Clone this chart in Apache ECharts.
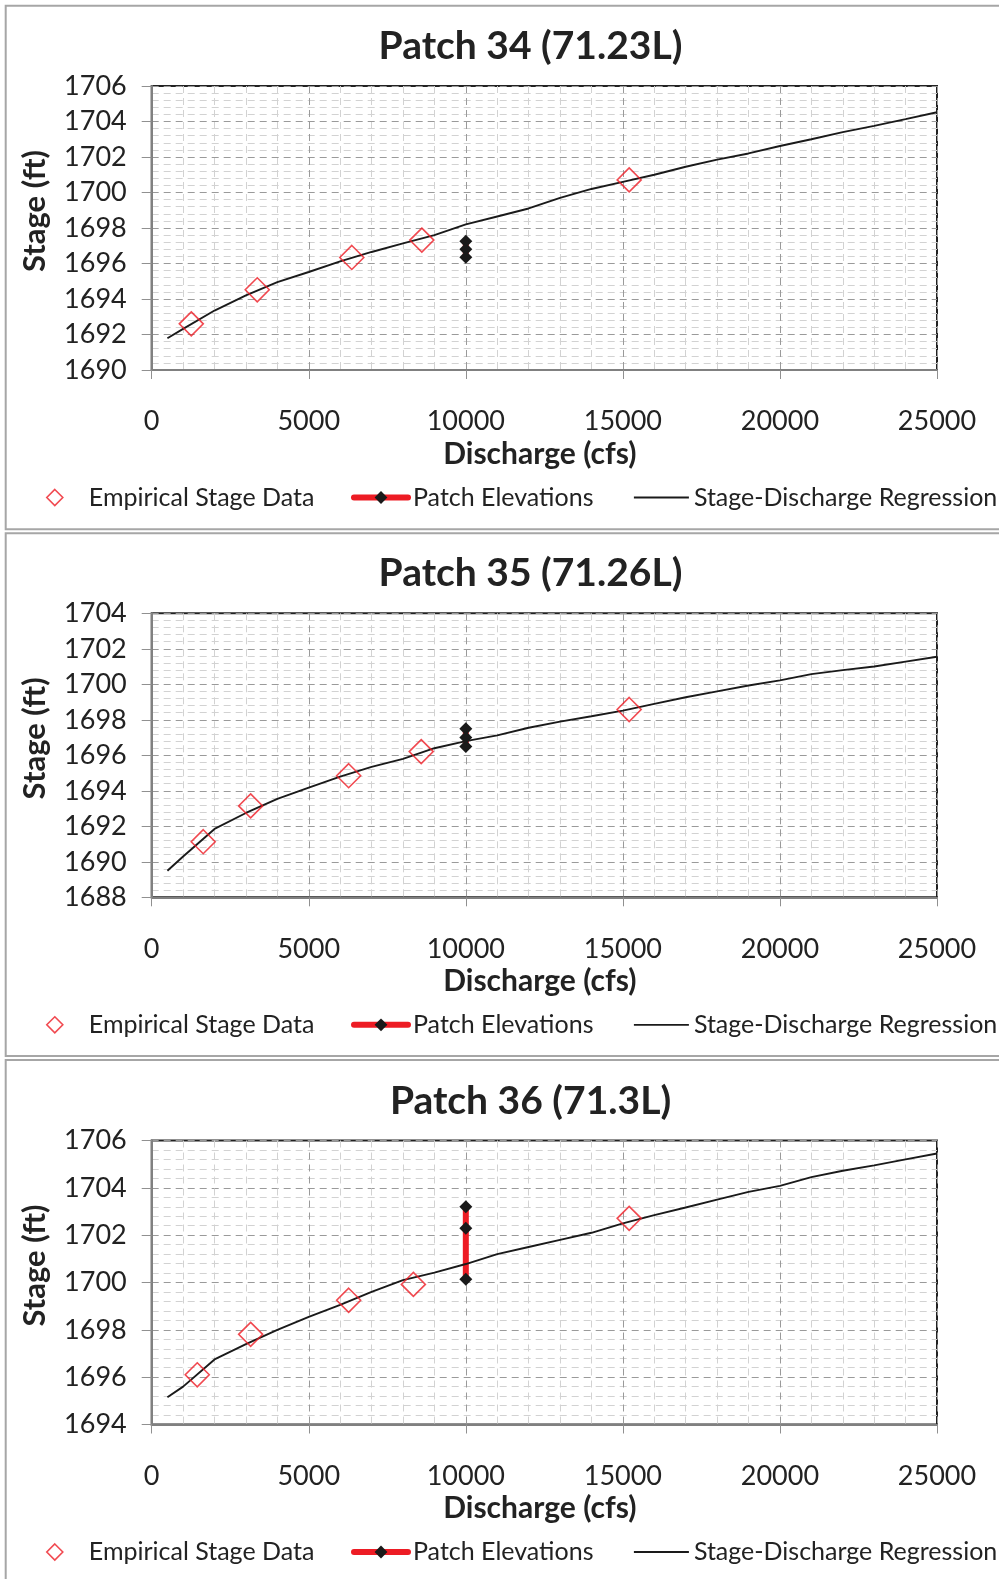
<!DOCTYPE html>
<html><head><meta charset="utf-8">
<script src="https://cdn.jsdelivr.net/npm/echarts@6/dist/echarts.min.js"></script>
<style>html,body{margin:0;padding:0;background:#fff;overflow:hidden}#c{width:999px;height:1579px}</style>
</head><body><div id="c"></div>
<script>
// ---- data ----
const chartTitles = ['Patch 34 (71.23L)', 'Patch 35 (71.26L)', 'Patch 36 (71.3L)'];
const xTicks = [0, 5000, 10000, 15000, 20000, 25000];
const yRanges = [[1690, 1706], [1688, 1704], [1694, 1706]];

const discharge = [500, 1000, 2000, 3000, 4000, 5000, 6000, 7000, 8000, 9000, 10000, 11000, 12000,
  13000, 14000, 15000, 16000, 17000, 18000, 19000, 20000, 21000, 22000, 23000, 24000, 25000];
const regression34 = [1691.79, 1692.32, 1693.35, 1694.2, 1694.95, 1695.52, 1696.12, 1696.65, 1697.13, 1697.6,
  1698.2, 1698.65, 1699.1, 1699.7, 1700.2, 1700.6, 1701.0, 1701.45, 1701.85, 1702.2, 1702.62, 1703.0, 1703.4,
  1703.75, 1704.13, 1704.52];
const regression35 = [1689.5, 1690.3, 1691.85, 1692.75, 1693.55, 1694.18, 1694.8, 1695.35, 1695.8, 1696.4,
  1696.8, 1697.12, 1697.55, 1697.9, 1698.2, 1698.52, 1698.9, 1699.27, 1699.6, 1699.93, 1700.22, 1700.57, 1700.8,
  1701.0, 1701.28, 1701.55];
const regression36 = [1695.15, 1695.6, 1696.75, 1697.4, 1698.0, 1698.55, 1699.05, 1699.6, 1700.1, 1700.42,
  1700.78, 1701.2, 1701.5, 1701.8, 1702.1, 1702.5, 1702.85, 1703.17, 1703.5, 1703.83, 1704.08, 1704.45, 1704.72,
  1704.95, 1705.2, 1705.45];

const empQ34 = [1260, 3360, 6370, 8600, 15200];
const empStage34 = [1692.6, 1694.52, 1696.34, 1697.32, 1700.71];
const empQ35 = [1640, 3150, 6270, 8580, 15200];
const empStage35 = [1691.13, 1693.15, 1694.85, 1696.21, 1698.58];
const empQ36 = [1450, 3150, 6270, 8330, 15200];
const empStage36 = [1696.1, 1697.81, 1699.25, 1699.92, 1702.71];

const patchQ = 10000;
const patch34 = [1697.25, 1696.8, 1696.35];
const patch35 = [1697.5, 1697.0, 1696.5];
const patch36 = [1703.2, 1702.29, 1700.14];

const regressions = [regression34, regression35, regression36];
const empQs = [empQ34, empQ35, empQ36];
const empStages = [empStage34, empStage35, empStage36];
const patches = [patch34, patch35, patch36];

// ---- layout / style ----
const FONT = 'Lato';
const TXT = '#222222';
const RED = '#ed1c24';
const BLK = '#1a1a1a';
const offsets = [0, 527.3, 1054.5];
const gridTop = 86, gridH = 284, gridLeft = 151.7, gridRight = 62;
const boxes = [[5.7, 529.3], [533.3, 1056], [1060, 1600]];
const plain = v => String(v);

const option = {
  animation: false,
  backgroundColor: '#fff',
  title: [], grid: [], xAxis: [], yAxis: [], series: [], legend: [],
  graphic: boxes.map(b => ({
    type: 'rect', silent: true, z: -10,
    shape: {x: 5.7, y: b[0], width: 1100, height: b[1] - b[0]},
    style: {fill: 'none', stroke: '#a6a6a6', lineWidth: 2}
  }))
};

const dash = [7, 5];
for (let i = 0; i < 3; i++) {
  const off = offsets[i];
  option.title.push({
    text: chartTitles[i], left: 530.5, textAlign: 'center', top: 27 + off,
    padding: 0,
    textStyle: {fontFamily: FONT, fontWeight: 'bold', fontSize: 39, color: TXT}
  });
  option.grid.push({
    left: gridLeft, right: gridRight, top: gridTop + off, height: gridH,
    show: true, borderColor: '#222', borderWidth: 2, backgroundColor: 'rgba(0,0,0,0)'
  });
  option.xAxis.push({
    type: 'value', gridIndex: i, min: xTicks[0], max: xTicks[xTicks.length - 1], interval: xTicks[1] - xTicks[0],
    name: 'Discharge (cfs)', nameLocation: 'middle', nameGap: 69,
    nameTextStyle: {fontFamily: FONT, fontWeight: 'bold', fontSize: 30, color: TXT, padding: [0, 9, 0, 0]},
    axisLine: {show: true, lineStyle: {color: '#808080', width: 2}},
    axisTick: {show: true, length: 9, lineStyle: {color: '#909090', width: 1}},
    axisLabel: {fontFamily: FONT, fontSize: 27, color: TXT, margin: 38, formatter: plain},
    splitLine: {show: true, lineStyle: {color: '#9a9a9a', width: 1, type: dash}},
    minorTick: {show: false, splitNumber: 5},
    minorSplitLine: {show: true, lineStyle: {color: '#d2d2d2', width: 1, type: dash}}
  });
  option.yAxis.push({
    type: 'value', gridIndex: i, min: yRanges[i][0], max: yRanges[i][1], interval: 2,
    name: 'Stage (ft)', nameLocation: 'middle', nameGap: 101,
    nameTextStyle: {fontFamily: FONT, fontWeight: 'bold', fontSize: 31, color: TXT, padding: [0, 0, 0, 34]},
    axisLine: {show: true, lineStyle: {color: '#808080', width: 2}},
    axisTick: {show: true, length: 10, lineStyle: {color: '#909090', width: 1}},
    axisLabel: {fontFamily: FONT, fontSize: 27, color: TXT, margin: 25, formatter: plain},
    splitLine: {show: true, lineStyle: {color: '#9a9a9a', width: 1, type: dash}},
    minorTick: {show: false, splitNumber: 5},
    minorSplitLine: {show: true, lineStyle: {color: '#d2d2d2', width: 1, type: dash}}
  });
  option.series.push({
    type: 'line', name: 'Patch Elevations', xAxisIndex: i, yAxisIndex: i, z: 3,
    data: patches[i].map(v => [patchQ, v]),
    symbol: 'diamond', symbolSize: 13, showSymbol: true,
    lineStyle: {color: RED, width: 6}, itemStyle: {color: BLK},
    emphasis: {disabled: true}, silent: true
  });
  option.series.push({
    type: 'line', name: 'Stage-Discharge Regression', xAxisIndex: i, yAxisIndex: i, z: 4,
    data: discharge.map((q, k) => [q, regressions[i][k]]),
    symbol: 'none', lineStyle: {color: BLK, width: 1.9}, itemStyle: {color: BLK},
    emphasis: {disabled: true}, silent: true
  });
  option.series.push({
    type: 'scatter', name: 'Empirical Stage Data', xAxisIndex: i, yAxisIndex: i, z: 5,
    data: empQs[i].map((q, k) => [q, empStages[i][k]]),
    symbol: 'diamond', symbolSize: 24,
    itemStyle: {color: 'rgba(255,255,255,0)', borderColor: RED, borderWidth: 1.6},
    emphasis: {disabled: true}, silent: true
  });
  const lt = 485 + off;
  const ts = {fontFamily: FONT, fontSize: 25, color: TXT};
  option.legend.push({
    data: [{name: 'Empirical Stage Data', icon: 'diamond'}], left: 46, top: lt, itemWidth: 16, itemHeight: 16, padding: 0,
    selectedMode: false, textStyle: Object.assign({}, ts, {padding: [0, 0, 0, 21]}),
    itemStyle: {color: 'rgba(255,255,255,0)', borderColor: RED, borderWidth: 1.6}
  });
  option.legend.push({
    data: ['Patch Elevations'], left: 351, top: lt, itemWidth: 54, itemHeight: 16, padding: 0,
    selectedMode: false, textStyle: ts, lineStyle: {width: 6, cap: 'round'}
  });
  option.legend.push({
    data: ['Stage-Discharge Regression'], left: 633, top: lt, itemWidth: 55, itemHeight: 16, padding: 0,
    selectedMode: false, textStyle: ts, lineStyle: {width: 1.8},
    itemStyle: {color: 'rgba(0,0,0,0)', borderWidth: 0, opacity: 0}
  });
}

const chart = echarts.init(document.getElementById('c'), null, {renderer: 'canvas'});
chart.setOption(option);
</script>
</body></html>
